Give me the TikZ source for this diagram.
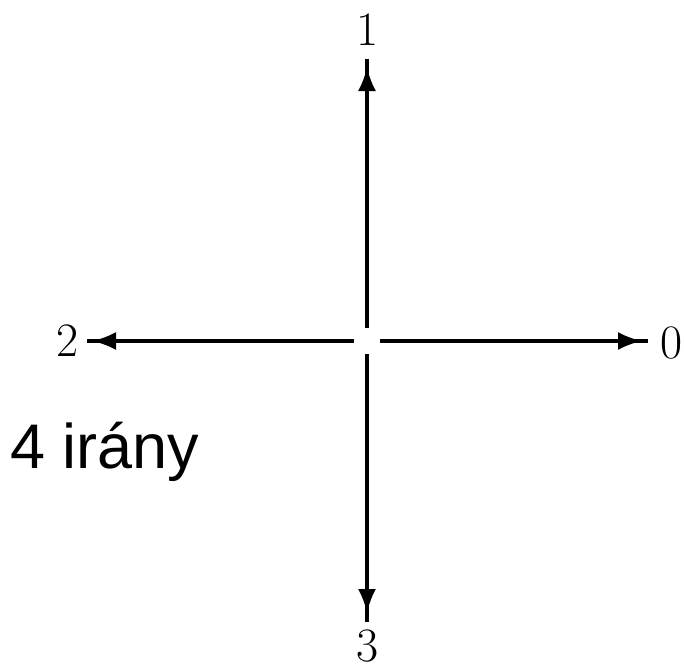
\documentclass[tikz,border=0pt]{standalone}
\usepackage{fontspec}
\newfontfamily\arialfont{Liberation Sans}
\usetikzlibrary{arrows.meta}

\begin{document}
\begin{tikzpicture}[
  x=1pt, y=-1pt,
  lbl/.style={inner sep=0pt, font=\fontsize{48}{48}\selectfont},
  ax/.style={line width=3.4pt, shorten <=13pt},
  flow/.style={ax, -{Latex[length=24pt,width=18pt]}},
  tail/.style={line width=3.4pt, shorten >=-10pt},
]
\useasboundingbox (0,0) rectangle (684,670);

% ---- centre and direction labels ----
\coordinate (c) at (367,341);
\node[lbl] (l0) at (672,343) {0};
\node[lbl] (l1) at (368,30)  {1};
\node[lbl] (l2) at (68,341)  {2};
\node[lbl] (l3) at (368,646) {3};

% ---- tips and line ends ----
\coordinate (t0) at (642,341); \coordinate (e0) at (648,341);
\coordinate (t1) at (367,67);  \coordinate (e1) at (367,59);
\coordinate (t2) at (92,341);  \coordinate (e2) at (87,341);
\coordinate (t3) at (367,613); \coordinate (e3) at (367,622);

% ---- arrows ----
\foreach \i in {0,1,2,3}{
  \draw[flow] (c) -- (t\i);
  \draw[tail] (e\i) -- (t\i);
}

% ---- caption ----
\node[inner sep=0pt, anchor=base west, font=\arialfont\fontsize{63}{63}\selectfont] (cap) at (10,468) {4 irány};

\end{tikzpicture}
\end{document}
